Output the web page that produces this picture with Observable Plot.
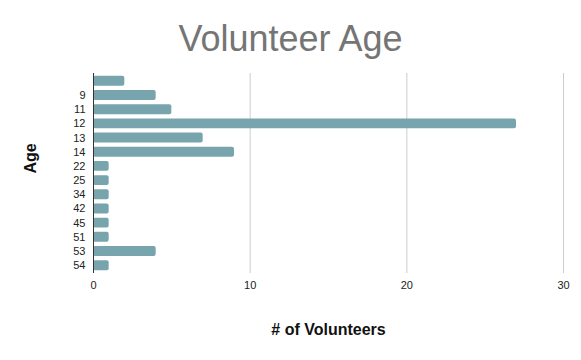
<!DOCTYPE html>
<html>
<head>
<meta charset="utf-8">
<script src="https://cdn.jsdelivr.net/npm/d3@7"></script>
<script src="https://cdn.jsdelivr.net/npm/@observablehq/plot@0.6"></script>
<style>
  body { margin: 0; background: #fff; font-family: "Liberation Sans", Arial, sans-serif; }
  #wrap { position: relative; width: 581px; height: 360px; }
  #title { position: absolute; left: 0; top: 18px; width: 581px; text-align: center;
           font-size: 36px; color: #757575; font-family: "Liberation Sans", Arial, sans-serif; }
  #chart { position: absolute; left: 0; top: 0; }
</style>
</head>
<body>
<div id="wrap">
  <div id="chart"></div>
  <div id="title">Volunteer Age</div>
</div>
<script>
const ages = ["", "9", "11", "12", "13", "14", "22", "25", "34", "42", "45", "51", "53", "54"];
const counts = [2, 4, 5, 27, 7, 9, 1, 1, 1, 1, 1, 1, 4, 1];
const xTicks = [0, 10, 20, 30];

const data = ages.map((a, i) => ({age: a, count: counts[i]}));

const chart = Plot.plot({
  width: 581,
  height: 360,
  marginLeft: 93,
  marginRight: 18,
  marginTop: 73,
  marginBottom: 87,
  style: {fontFamily: "Liberation Sans, Arial, sans-serif", fontSize: "11px", color: "#222", background: "#fff"},
  x: {domain: [0, 30], ticks: xTicks, label: null},
  y: {domain: ages, paddingInner: 0.3, paddingOuter: 0.2, round: false, label: null},
  marks: [
    Plot.gridX(xTicks.slice(1), {stroke: "#cccccc", strokeOpacity: 1}),
    Plot.barX(data, {x: "count", y: "age", fill: "#78a4ad", rx: 2}),
    Plot.ruleX([0], {stroke: "#333", strokeWidth: 1}),
    Plot.axisX(xTicks, {tickSize: 0, tickPadding: 8, fill: "#222", fontSize: 11, label: null}),
    Plot.axisY({tickSize: 0, tickPadding: 8, fill: "#222", fontSize: 11, label: null}),
    Plot.text(["# of Volunteers"], {frameAnchor: "bottom", dy: 61, fontSize: 16, fontWeight: "bold", fill: "#111"}),
    Plot.text(["Age"], {frameAnchor: "left", dx: -63, rotate: -90, fontSize: 16, fontWeight: "bold", fill: "#111"})
  ]
});
document.getElementById("chart").appendChild(chart);
</script>
</body>
</html>
